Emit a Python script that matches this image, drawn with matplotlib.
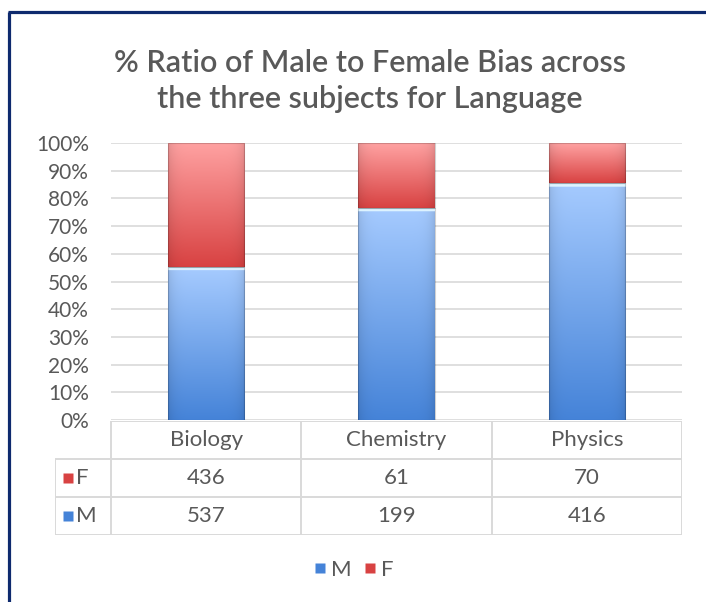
import numpy as np
import matplotlib
matplotlib.use("Agg")
import matplotlib.pyplot as plt
from matplotlib.lines import Line2D
from matplotlib.patches import Rectangle
from matplotlib.colors import to_rgb

# ---- data ----
categories = ["Biology", "Chemistry", "Physics"]
male = [537, 199, 416]
female = [436, 61, 70]
yticks = [0, 10, 20, 30, 40, 50, 60, 70, 80, 90, 100]
title = "% Ratio of Male to Female Bias across\nthe three subjects for Language"

FONT = "Lato"
TXT = "#595959"
GRID = "#D9D9D9"
W, H = 706, 602

plt.rcParams["font.family"] = [FONT, "DejaVu Sans"]

fig = plt.figure(figsize=(W / 100, H / 100), dpi=100)


def rect(l, t, r, b):
    return [l / W, 1 - b / H, (r - l) / W, (b - t) / H]


ax = fig.add_axes(rect(111, 143, 682, 420))
x = np.arange(len(categories))
tot = np.array(male, float) + np.array(female, float)
mp = np.array(male) / tot
fp = np.array(female) / tot


def grad_img(top, bottom, n=200, m=60, highlight=None):
    t = np.linspace(0, 1, n)[:, None]
    top = np.array(to_rgb(top)); bottom = np.array(to_rgb(bottom))
    col = top[None, None, :] * (1 - t[..., None]) + bottom[None, None, :] * t[..., None]
    col = np.repeat(col, m, axis=1)
    u = np.linspace(-1, 1, m)
    shade = 1 - 0.10 * np.abs(u) ** 6
    col = col * shade[None, :, None]
    if highlight is not None:
        hl = np.array(to_rgb(highlight))
        k = max(1, int(n * 0.02))
        col[:k] = hl
    return np.clip(col, 0, 1)


bw = 0.4
bars_m = ax.bar(x, mp, width=bw, color="#6FA2EA", edgecolor="none", zorder=2)
bars_f = ax.bar(x, fp, width=bw, bottom=mp, color="#E86A6A", edgecolor="none", zorder=2)

for bars, (top, bot, hl) in ((bars_m, ("#A6CBFF", "#4583D8", "#DDF3FF")),
                              (bars_f, ("#FFA2A2", "#D84242", None))):
    for p in bars:
        x0, y0 = p.get_x(), p.get_y()
        im = ax.imshow(grad_img(top, bot, highlight=hl),
                       extent=[x0, x0 + p.get_width(), y0, y0 + p.get_height()],
                       aspect="auto", zorder=3, interpolation="bilinear")
        im.set_clip_path(p)
        ax.add_patch(Rectangle((x0, y0), p.get_width(), p.get_height(),
                               fill=False, edgecolor=(0, 0, 0, 0.18), lw=0.8, zorder=4))

ax.set_xlim(-0.5, 2.5)
ax.set_ylim(0, 1)
ax.set_yticks(np.array(yticks) / 100)
ax.set_yticklabels([f"{v}%" for v in yticks], fontsize=15, color=TXT)
ax.tick_params(axis="y", length=0, pad=16)
ax.set_xticks([])
for s in ax.spines.values():
    s.set_visible(False)
ax.yaxis.grid(True, color=GRID, lw=1.2, zorder=0)
ax.set_axisbelow(True)

# ---- data table ----
tax = fig.add_axes(rect(55, 421, 682, 535))
xl = -0.5 - 56 / 190
tax.set_xlim(xl, 2.5)
tax.set_ylim(3, 0)
tax.axis("off")
lk = dict(color=GRID, lw=1.4, solid_capstyle="butt")
tax.plot([-0.5, 2.5], [0, 0], **lk)
for yy in (1, 2, 3):
    tax.plot([xl, 2.5], [yy, yy], **lk)
tax.plot([xl, xl], [1, 3], **lk)
for xx in (-0.5, 0.5, 1.5, 2.5):
    tax.plot([xx, xx], [0, 3], **lk)
FS = 16
for i, c in enumerate(categories):
    tax.text(i, 0.5, c, ha="center", va="center", fontsize=FS, color=TXT)
    tax.text(i, 1.5, str(female[i]), ha="center", va="center", fontsize=FS, color=TXT)
    tax.text(i, 2.5, str(male[i]), ha="center", va="center", fontsize=FS, color=TXT)
for row, lab, col in ((1.5, "F", "#D84242"), (2.5, "M", "#4583D8")):
    tax.plot([xl + 13 / 190], [row], marker="s", ms=7.5, color=col, mec="none")
    tax.text(xl + 21 / 190, row, lab, ha="left", va="center", fontsize=FS, color=TXT)

# ---- legend ----
handles = [Line2D([], [], marker="s", ls="none", ms=7.5, color="#4583D8", mec="none"),
           Line2D([], [], marker="s", ls="none", ms=7.5, color="#D84242", mec="none")]
fig.legend(handles, ["M", "F"], loc="center", bbox_to_anchor=(354 / W, 1 - 570 / H),
           ncol=2, frameon=False, fontsize=FS, labelcolor=TXT,
           handlelength=0.5, handletextpad=0.25, columnspacing=0.6)

# ---- title ----
fig.text(370 / W, 1 - 81 / H, title, ha="center", va="center", fontsize=22,
         color=TXT, linespacing=1.35, fontweight="semibold")

# ---- frame ----
fc = "#0E2A6E"
fig.add_artist(Line2D([8.5 / W, 8.5 / W], [0, 1 - 12 / H], color=fc, lw=2.3, solid_capstyle="butt"))
fig.add_artist(Line2D([7.5 / W, 1], [1 - 12 / H, 1 - 12 / H], color=fc, lw=2.3, solid_capstyle="butt"))

fig.savefig("out.png", dpi=100)
